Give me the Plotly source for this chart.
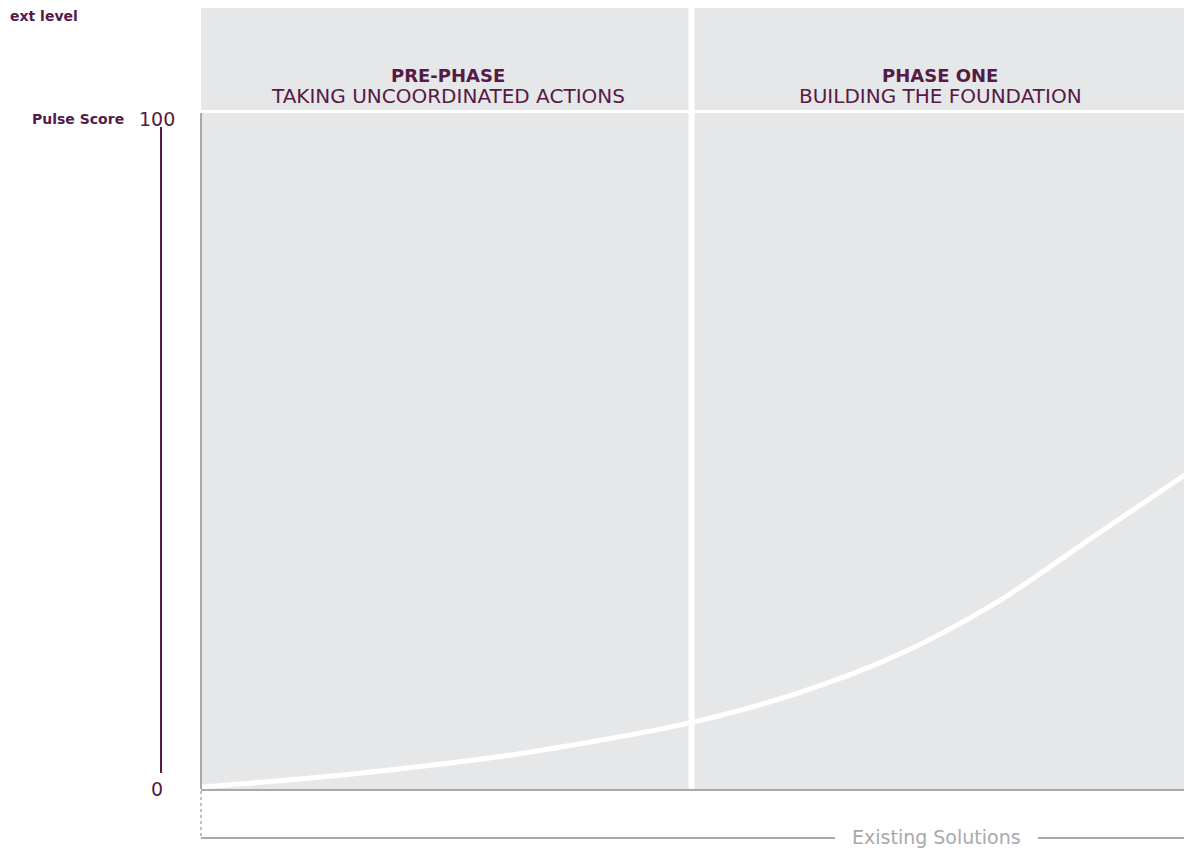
import plotly.graph_objects as go

# curve (x: progress 0-100 across the panel, y: pulse score)
progress = [0, 10, 20, 30, 40, 50, 60, 70, 80, 90, 100]
pulse = [0.3, 1.5, 3.0, 4.8, 7.2, 10.1, 14.2, 19.8, 27.6, 37.6, 47.6]

phase_split = 49.5
phase_titles = ['PRE-PHASE', 'PHASE ONE']
phase_subtitles = ['TAKING UNCOORDINATED ACTIONS', 'BUILDING THE FOUNDATION']
phase_centers = [24.9, 74.6]
y_ticks = [0, 100]

PURPLE = '#561a47'
PANEL = '#e6e7e8'
GREY = '#a7a9ac'
FONT = 'DejaVu Sans'

# the page body adds an 8px margin, so the figure is drawn 8px smaller and
# all positions below are given in the reference's pixel grid
OFF = 8
W, H = 1192 - OFF, 852 - OFF
L, R, T, B = 201 - OFF, 0, 119 - OFF, 852 - 789
plot_w = W - L - R
plot_h = H - T - B


def px_x(px):
    return (px - 201) / plot_w


def px_y(py):
    return (789 - py) / plot_h


fig = go.Figure()
fig.add_trace(go.Scatter(x=progress, y=pulse, mode='lines',
                         line=dict(color='white', width=5, shape='spline', smoothing=1.0), cliponaxis=False,
                         hoverinfo='skip', showlegend=False))

shapes = []
# grey panel incl. header band
shapes.append(dict(type='rect', xref='paper', yref='paper', x0=0, x1=1, y0=0, y1=px_y(6),
                   fillcolor=PANEL, line_width=0, layer='below'))
# header separator
shapes.append(dict(type='line', xref='paper', yref='paper', x0=0, x1=1, y0=px_y(111.5), y1=px_y(111.5),
                   line=dict(color='white', width=3), layer='below'))
# phase divider
shapes.append(dict(type='line', xref='x', yref='paper', x0=phase_split, x1=phase_split, y0=0, y1=px_y(6),
                   line=dict(color='white', width=6), layer='below'))
# left edge of the panel
shapes.append(dict(type='line', xref='paper', yref='paper', x0=0, x1=0, y0=0, y1=px_y(113),
                   line=dict(color=GREY, width=2)))
# bottom of the panel
shapes.append(dict(type='line', xref='paper', yref='paper', x0=0, x1=1, y0=px_y(790), y1=px_y(790),
                   line=dict(color=GREY, width=2)))
# dashed drop + existing solutions line
shapes.append(dict(type='line', xref='paper', yref='paper', x0=0, x1=0, y0=px_y(791), y1=px_y(838),
                   line=dict(color=GREY, width=1.5, dash='dot')))
shapes.append(dict(type='line', xref='paper', yref='paper', x0=0, x1=px_x(835), y0=px_y(838), y1=px_y(838),
                   line=dict(color=GREY, width=2)))
shapes.append(dict(type='line', xref='paper', yref='paper', x0=px_x(1038), x1=1, y0=px_y(838), y1=px_y(838),
                   line=dict(color=GREY, width=2)))
# pulse score axis
shapes.append(dict(type='line', xref='paper', yref='paper', x0=px_x(161), x1=px_x(161), y0=px_y(773), y1=px_y(127),
                   line=dict(color=PURPLE, width=2)))

annotations = []
for cx, title, sub in zip(phase_centers, phase_titles, phase_subtitles):
    annotations.append(dict(xref='x', yref='paper', x=cx, y=px_y(75), xanchor='center', yanchor='middle',
                            text=f'<b>{title}</b>', showarrow=False,
                            font=dict(family=FONT, size=18, color=PURPLE)))
    annotations.append(dict(xref='x', yref='paper', x=cx, y=px_y(96), xanchor='center', yanchor='middle',
                            text=sub, showarrow=False,
                            font=dict(family=FONT, size=20, color=PURPLE)))
for t in y_ticks:
    annotations.append(dict(xref='paper', yref='y', x=px_x(157), y=t, xanchor='center', yanchor='middle',
                            text=str(t), showarrow=False,
                            font=dict(family=FONT, size=19, color=PURPLE)))
annotations.append(dict(xref='paper', yref='paper', x=px_x(126), y=px_y(119), xanchor='right', yanchor='middle',
                        text='<b>Pulse Score</b>', showarrow=False,
                        font=dict(family=FONT, size=14, color=PURPLE)))
annotations.append(dict(xref='paper', yref='paper', x=px_x(8), y=px_y(16), xanchor='left', yanchor='middle',
                        text='<b>ext level</b>', showarrow=False,
                        font=dict(family=FONT, size=14, color=PURPLE)))
annotations.append(dict(xref='paper', yref='paper', x=px_x(936), y=px_y(837), xanchor='center', yanchor='middle',
                        text='Existing Solutions', showarrow=False, bgcolor='white',
                        font=dict(family=FONT, size=19, color=GREY)))

fig.update_layout(
    width=W, height=H,
    margin=dict(l=L, r=R, t=T, b=B),
    paper_bgcolor='white', plot_bgcolor='rgba(0,0,0,0)',
    xaxis=dict(range=[0, 100], visible=False, fixedrange=True),
    yaxis=dict(range=[0, 100], visible=False, fixedrange=True),
    shapes=shapes, annotations=annotations,
    showlegend=False,
)

fig.write_html("out.html")
